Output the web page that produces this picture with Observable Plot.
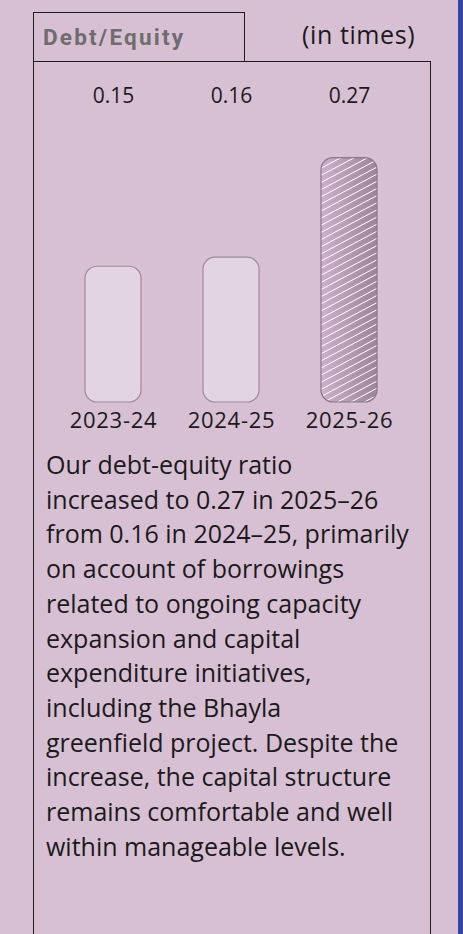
<!DOCTYPE html>
<html>
<head>
<meta charset="utf-8">
<script src="https://cdn.jsdelivr.net/npm/d3@7"></script>
<script src="https://cdn.jsdelivr.net/npm/@observablehq/plot@0.6"></script>
<style>
  html, body { margin: 0; padding: 0; }
  body {
    width: 463px; height: 934px; overflow: hidden; position: relative;
    background: #d7c0d4; font-family: "Open Sans", sans-serif; color: #1a1a1a;
  }
  .strip { position: absolute; left: 458px; top: 0; width: 5px; height: 934px; background: #34459b; }
  .titlebox { position: absolute; left: 33px; top: 12px; width: 212px; height: 50px;
    box-sizing: border-box; border: 1.5px solid #1c1c1c; border-bottom: none; }
  .mainbox { position: absolute; left: 33px; top: 61px; width: 398px; height: 900px;
    box-sizing: border-box; border: 1.5px solid #1c1c1c; }
  .title { position: absolute; left: 43px; top: 26px; font-family: Roboto, sans-serif; font-weight: 700;
    font-size: 22.5px; line-height: 22px; letter-spacing: 2.2px; color: #6d6d6d; white-space: nowrap; }
  .unit { position: absolute; left: 302px; top: 22px; font-size: 25px; line-height: 25px;
    letter-spacing: 0.6px; white-space: nowrap; }
  .body { position: absolute; left: 46px; top: 447px; font-size: 25px; line-height: 34.7px; white-space: nowrap; }
  #chart { position: absolute; left: 0; top: 0; }
  #chart g[aria-label="x-axis tick label"] text { letter-spacing: 0.7px; }
</style>
</head>
<body>
<div class="strip"></div>
<div class="titlebox"></div>
<div class="mainbox"></div>
<div class="title" id="title"></div>
<div class="unit" id="unit"></div>
<div class="body" id="body"></div>
<div id="chart"></div>
<script>
const titleText = "Debt/Equity";
const unitText = "(in times)";
const years = ["2023-24", "2024-25", "2025-26"];
const ratios = [0.15, 0.16, 0.27];
const valueLabels = ["0.15", "0.16", "0.27"];
const highlightYear = "2025-26";
const bodyLines = [
  "Our debt-equity ratio",
  "increased to 0.27 in 2025\u201326",
  "from 0.16 in 2024\u201325, primarily",
  "on account of borrowings",
  "related to ongoing capacity",
  "expansion and capital",
  "expenditure initiatives,",
  "including the Bhayla",
  "greenfield project. Despite the",
  "increase, the capital structure",
  "remains comfortable and well",
  "within manageable levels."
];

document.getElementById("title").textContent = titleText;
document.getElementById("unit").textContent = unitText;
const bodyEl = document.getElementById("body");
bodyLines.forEach(l => { const d = document.createElement("div"); d.textContent = l; bodyEl.appendChild(d); });

const data = years.map((year, i) => ({year, value: ratios[i], label: valueLabels[i]}));
const plain = data.filter(d => d.year !== highlightYear);
const hi = data.filter(d => d.year === highlightYear);

const svg = Plot.plot({
  width: 463,
  height: 440,
  marginLeft: 23,
  marginRight: 24,
  marginTop: 88,
  marginBottom: 38,
  style: {background: "transparent", fontFamily: "'Open Sans', sans-serif", color: "#1a1a1a", overflow: "visible"},
  x: {domain: years, padding: 0.525, label: null},
  y: {domain: [0, 0.347], axis: null},
  marks: [
    Plot.barY(plain, {x: "year", y: "value", fill: "#e2d4e3", stroke: "#9e8a9d", strokeWidth: 1.2, rx: 12}),
    Plot.barY(hi, {x: "year", y: "value", fill: "url(#barGrad)", rx: 12}),
    Plot.barY(hi, {x: "year", y: "value", fill: "url(#hatch)", stroke: "#8a7589", strokeWidth: 1.2, rx: 12}),
    Plot.text(data, {x: "year", text: "label", frameAnchor: "top", lineAnchor: "top", fontSize: 21, fill: "#1a1a1a"}),
    Plot.axisX({tickSize: 0, tickPadding: 10, fontSize: 22, label: null, fill: "#1a1a1a"})
  ]
});

const defs = d3.select(svg).insert("defs", ":first-child");
const grad = defs.append("linearGradient").attr("id", "barGrad").attr("x1", 0).attr("x2", 1).attr("y1", 0).attr("y2", 0);
grad.append("stop").attr("offset", 0).attr("stop-color", "#cdb0ca");
grad.append("stop").attr("offset", 1).attr("stop-color", "#9c849a");
const pat = defs.append("pattern").attr("id", "hatch").attr("patternUnits", "userSpaceOnUse")
  .attr("width", 6.3).attr("height", 6.3).attr("patternTransform", "rotate(-28)");
pat.append("rect").attr("x", 0).attr("y", 2.7).attr("width", 6.3).attr("height", 0.9).attr("fill", "#ffffff");

document.getElementById("chart").appendChild(svg);
</script>
</body>
</html>
